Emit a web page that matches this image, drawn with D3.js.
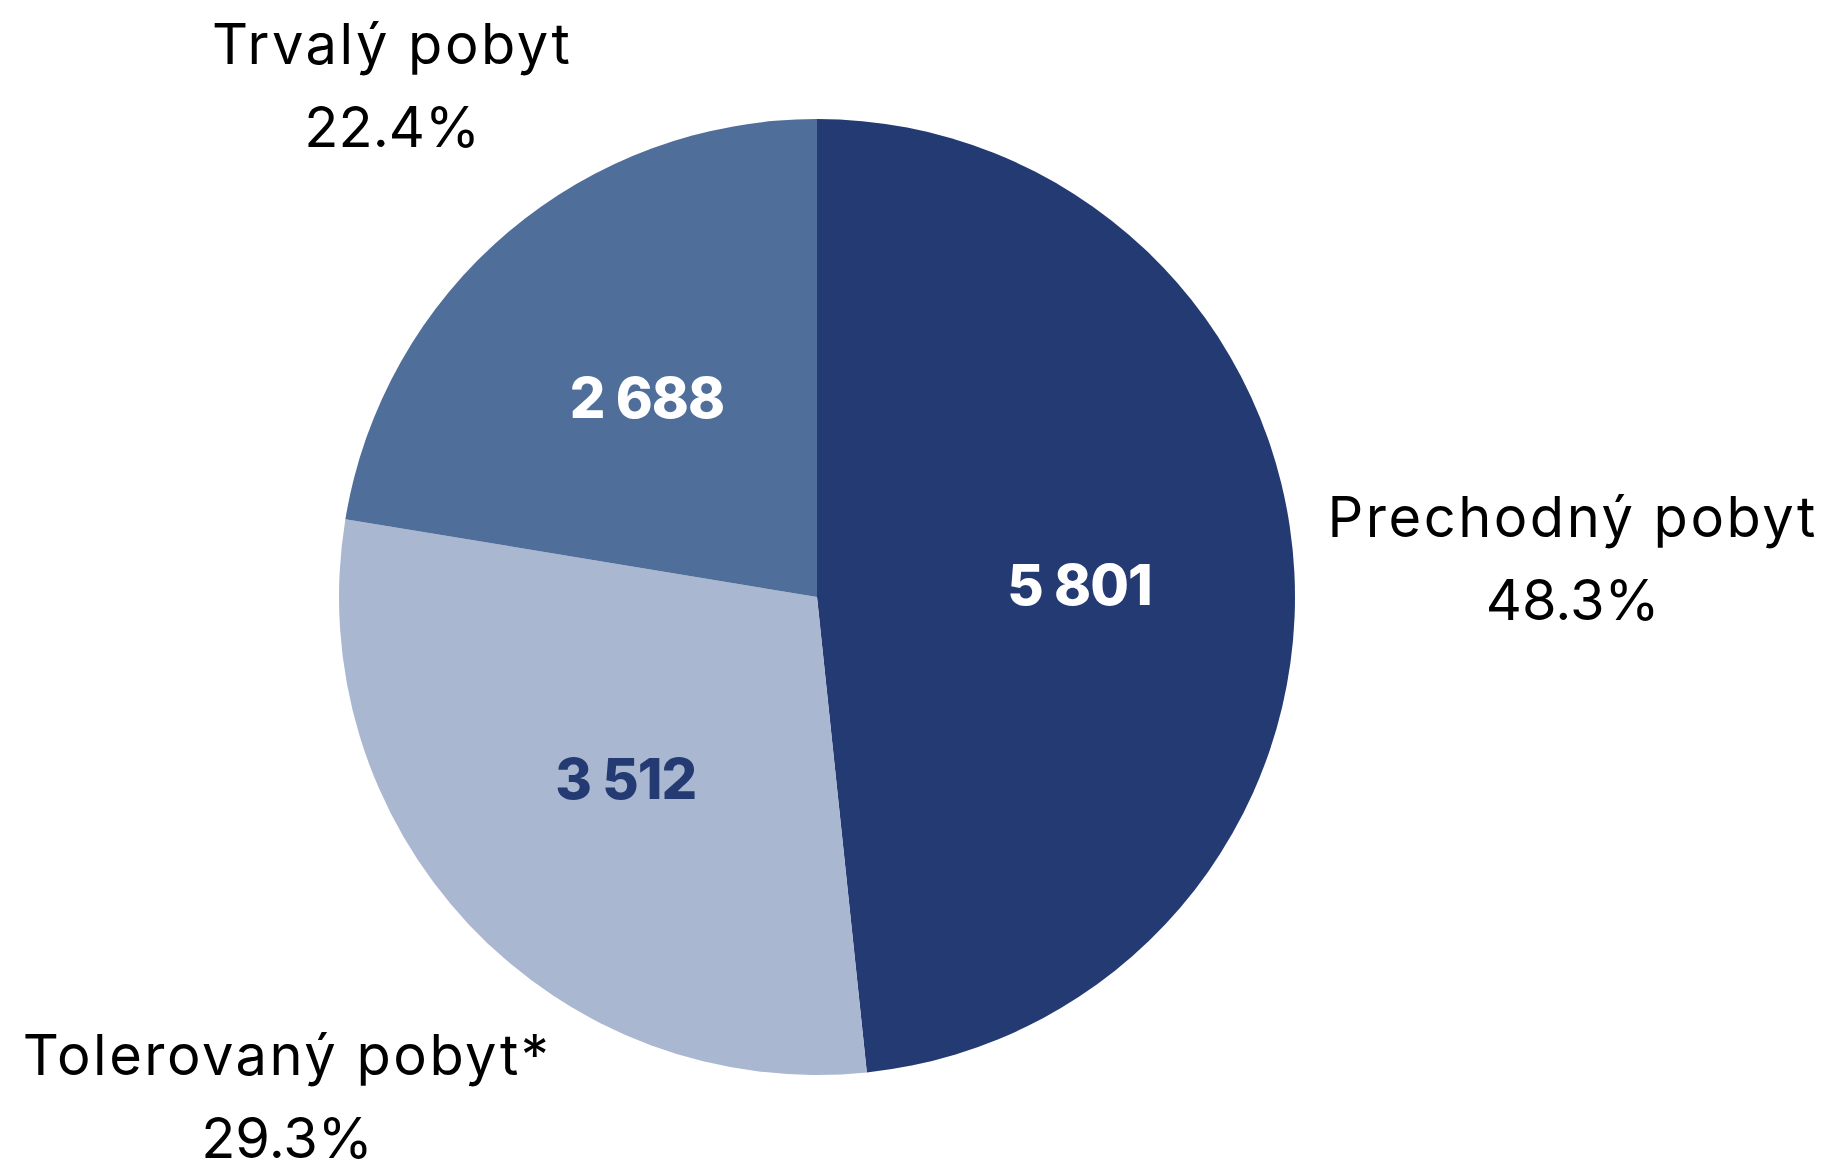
<!DOCTYPE html>
<html>
<head>
<meta charset="utf-8">
<script src="https://cdn.jsdelivr.net/npm/d3@7"></script>
<style>
  html, body { margin: 0; padding: 0; background: #ffffff; }
  svg { display: block; }
</style>
</head>
<body>
<svg id="chart" width="1830" height="1173"></svg>
<script>
// ---- data ----
const categories = ["Prechodný pobyt", "Tolerovaný pobyt*", "Trvalý pobyt"];
const values = [5801, 3512, 2688];
const percentLabels = ["48.3%", "29.3%", "22.4%"];
const valueLabels = ["5 801", "3 512", "2 688"];
const sliceColors = ["#243A73", "#A9B7D0", "#506E9A"];
const valueLabelColors = ["#ffffff", "#243A73", "#ffffff"];

// ---- layout ----
const W = 1830, H = 1173;
const cx = 817, cy = 597, R = 478;
const outerPad = 20;
const labelShiftX = 10;
const lineGap = 83;

const svg = d3.select("#chart");
const g = svg.append("g").attr("transform", `translate(${cx},${cy})`);

const data = categories.map((c, i) => ({
  name: c, value: values[i], pct: percentLabels[i], vlab: valueLabels[i],
  color: sliceColors[i], vcolor: valueLabelColors[i]
}));

const pie = d3.pie().sort(null).value(d => d.value);
const arcs = pie(data);
const arc = d3.arc().innerRadius(0).outerRadius(R);
const labelArc = d3.arc().innerRadius(0).outerRadius(R * 1.1);

g.selectAll("path.slice")
  .data(arcs)
  .join("path")
  .attr("class", "slice")
  .attr("d", arc)
  .attr("fill", d => d.data.color);

// value labels inside
g.selectAll("text.val")
  .data(arcs)
  .join("text")
  .attr("class", "val")
  .attr("transform", d => `translate(${labelArc.centroid(d)})`)
  .attr("text-anchor", "middle")
  .attr("dy", "0.38em")
  .attr("font-family", "Inter, 'Open Sans', sans-serif")
  .attr("font-weight", 800)
  .attr("font-size", 56)
  .attr("letter-spacing", -1)
  .attr("fill", d => d.data.vcolor)
  .text(d => d.data.vlab);

// outer category labels
const outer = g.selectAll("g.outer")
  .data(arcs)
  .join("g")
  .attr("class", "outer");

const txt = outer.append("text")
  .attr("text-anchor", "middle")
  .attr("font-family", "Inter, 'Open Sans', sans-serif")
  .attr("font-weight", 400)
  .attr("font-size", 56)
  .attr("fill", "#000000");
txt.append("tspan").attr("x", 0).attr("y", 0)
  .attr("letter-spacing", 2.5)
  .text(d => d.data.name);
txt.append("tspan").attr("x", 0).attr("y", lineGap)
  .attr("letter-spacing", 0)
  .text(d => d.data.pct);

outer.each(function(d) {
  const bb = this.getBBox();
  const a = (d.startAngle + d.endAngle) / 2;
  const ux = Math.sin(a), uy = -Math.cos(a);
  const half = Math.abs(ux) * bb.width / 2 + Math.abs(uy) * bb.height / 2;
  const dist = R + outerPad + half;
  let ccx = ux * dist + labelShiftX, ccy = uy * dist;
  // keep inside the chart area
  const top = ccy - bb.height / 2 + cy;
  if (top < 10) ccy += 10 - top;
  const bottom = ccy + bb.height / 2 + cy;
  if (bottom > H - 1) ccy -= bottom - (H - 1);
  const tx = ccx - (bb.x + bb.width / 2);
  const ty = ccy - (bb.y + bb.height / 2);
  d3.select(this).attr("transform", `translate(${tx},${ty})`);
});
</script>
</body>
</html>
